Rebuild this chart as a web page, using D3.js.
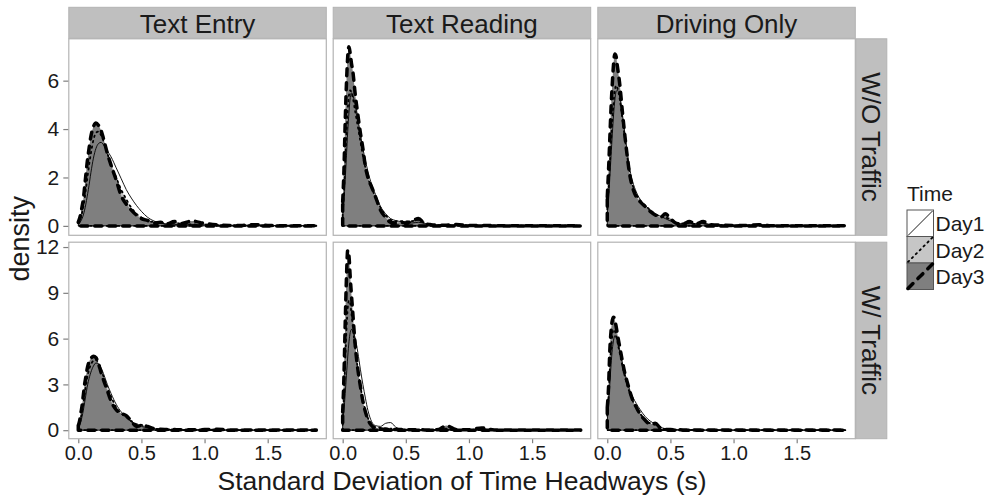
<!DOCTYPE html>
<html>
<head>
<meta charset="utf-8">
<script src="https://cdn.jsdelivr.net/npm/d3@7"></script>
<style>
  body { margin: 0; background: #fff; }
  svg { display: block; font-family: "Liberation Sans", Arial, sans-serif; }
</style>
</head>
<body>
<div id="chart"></div>
<script>
// facets and labels
const tasks = ["Text Entry", "Text Reading", "Driving Only"];
const traffic = ["W/O Traffic", "W/ Traffic"];
const days = ["Day1", "Day2", "Day3"];
const xTicks = [0, 0.5, 1.0, 1.5];
const yTicksTop = [0, 2, 4, 6];
const yTicksBottom = [0, 3, 6, 9, 12];

const xGrid = [0, .01, .02, .03, .04, .05, .06, .07, .08, .10, .12, .14, .16, .18, .20, .23, .26, .30, .34, .38, .42, .46, .50,
  .55, .60, .65, .70, .76, .82, .90, 1.00, 1.10, 1.20, 1.30, 1.40, 1.50, 1.60, 1.70, 1.885];

// W/O Traffic
const entryWO1 = [0.05, 0.1, 0.2, 0.3, 0.45, 0.65, 0.9, 1.2, 1.5, 2.2, 2.8, 3.2, 3.4, 3.45, 3.35, 3.1, 2.85, 2.4, 1.95, 1.5, 1.15, 0.85, 0.6,
  0.35, 0.2, 0.12, 0.08, 0.06, 0.05, 0.05, 0.04, 0.03, 0.02, 0.02, 0.04, 0.02, 0.01, 0.01, 0.01];
const entryWO2 = [0.1, 0.2, 0.35, 0.55, 0.8, 1.1, 1.5, 1.9, 2.3, 3.0, 3.55, 3.85, 3.9, 3.75, 3.5, 3.0, 2.55, 2.0, 1.5, 1.1, 0.75, 0.5, 0.35,
  0.22, 0.15, 0.12, 0.1, 0.12, 0.08, 0.06, 0.05, 0.03, 0.02, 0.02, 0.02, 0.01, 0.01, 0.01, 0.01];
const entryWO3 = [0.15, 0.3, 0.5, 0.8, 1.1, 1.6, 2.1, 2.6, 3.0, 3.7, 4.1, 4.25, 4.15, 3.95, 3.6, 3.0, 2.5, 1.9, 1.25, 0.9, 0.65, 0.45, 0.3,
  0.22, 0.12, 0.15, 0.08, 0.18, 0.1, 0.2, 0.1, 0.04, 0.02, 0.02, 0.05, 0.02, 0.01, 0.01, 0.01];

const readingWO1 = [0.4, 1.0, 1.9, 2.9, 3.9, 4.7, 5.3, 5.5, 5.4, 5.0, 4.4, 3.8, 3.2, 2.7, 2.25, 1.7, 1.3, 0.8, 0.5, 0.3, 0.22, 0.18, 0.15,
  0.12, 0.15, 0.1, 0.05, 0.03, 0.03, 0.03, 0.02, 0.01, 0.01, 0.01, 0.01, 0.01, 0.01, 0.01, 0.01];
const readingWO2 = [0.6, 1.4, 2.6, 3.8, 4.8, 5.4, 5.6, 5.5, 5.3, 4.7, 4.1, 3.5, 2.9, 2.4, 2.0, 1.55, 1.2, 0.75, 0.45, 0.25, 0.2, 0.2, 0.18,
  0.2, 0.25, 0.12, 0.05, 0.03, 0.03, 0.04, 0.02, 0.01, 0.01, 0.01, 0.01, 0.01, 0.01, 0.01, 0.01];
const readingWO3 = [1.0, 2.3, 4.3, 5.9, 7.0, 7.4, 7.1, 6.7, 6.4, 5.4, 4.6, 3.85, 3.2, 2.45, 2.0, 1.6, 1.2, 0.65, 0.35, 0.15, 0.12, 0.15, 0.12,
  0.2, 0.3, 0.1, 0.05, 0.03, 0.03, 0.06, 0.02, 0.02, 0.01, 0.01, 0.01, 0.01, 0.01, 0.01, 0.01];

const drivingWO1 = [0.5, 1.1, 2.0, 2.9, 3.8, 4.6, 5.2, 5.55, 5.6, 5.3, 4.6, 3.8, 3.0, 2.3, 1.85, 1.4, 1.1, 0.85, 0.65, 0.5, 0.4, 0.3, 0.2,
  0.12, 0.08, 0.08, 0.1, 0.1, 0.05, 0.03, 0.02, 0.02, 0.06, 0.01, 0.01, 0.01, 0.01, 0.01, 0.01];
const drivingWO2 = [0.7, 1.5, 2.5, 3.5, 4.4, 5.1, 5.6, 5.8, 5.7, 5.2, 4.4, 3.6, 2.8, 2.15, 1.7, 1.3, 1.05, 0.85, 0.65, 0.5, 0.38, 0.35, 0.25,
  0.12, 0.1, 0.12, 0.08, 0.1, 0.05, 0.03, 0.02, 0.02, 0.03, 0.01, 0.01, 0.01, 0.01, 0.01, 0.01];
const drivingWO3 = [1.2, 2.3, 3.6, 4.9, 5.9, 6.7, 7.1, 7.0, 6.6, 5.8, 4.7, 3.7, 2.8, 2.05, 1.6, 1.2, 1.0, 0.8, 0.6, 0.45, 0.35, 0.5, 0.3,
  0.1, 0.08, 0.18, 0.08, 0.18, 0.05, 0.03, 0.02, 0.02, 0.05, 0.01, 0.01, 0.01, 0.01, 0.01, 0.01];

// W/ Traffic
const entryW1 = [0.15, 0.3, 0.55, 0.9, 1.3, 1.8, 2.3, 2.8, 3.2, 3.8, 4.2, 4.4, 4.35, 4.1, 3.7, 3.0, 2.4, 1.7, 1.2, 0.85, 0.55, 0.35, 0.25,
  0.15, 0.1, 0.06, 0.05, 0.04, 0.03, 0.03, 0.03, 0.02, 0.01, 0.01, 0.01, 0.01, 0.01, 0.01, 0.01];
const entryW2 = [0.2, 0.4, 0.8, 1.2, 1.7, 2.3, 2.9, 3.4, 3.8, 4.3, 4.55, 4.6, 4.4, 4.0, 3.5, 2.8, 2.2, 1.5, 1.1, 0.85, 0.6, 0.4, 0.35,
  0.25, 0.12, 0.06, 0.05, 0.04, 0.03, 0.02, 0.03, 0.03, 0.01, 0.01, 0.01, 0.01, 0.01, 0.01, 0.01];
const entryW3 = [0.3, 0.6, 1.1, 1.6, 2.3, 3.0, 3.5, 4.0, 4.35, 4.7, 4.85, 4.75, 4.35, 3.8, 3.3, 2.6, 1.9, 1.35, 1.1, 0.95, 0.6, 0.25, 0.3,
  0.25, 0.1, 0.06, 0.05, 0.04, 0.03, 0.03, 0.04, 0.06, 0.02, 0.01, 0.01, 0.01, 0.01, 0.01, 0.01];

const readingW1 = [0.5, 1.3, 2.4, 3.6, 4.8, 5.8, 6.4, 6.6, 6.5, 6.0, 5.1, 4.0, 3.0, 2.1, 1.3, 0.55, 0.3, 0.25, 0.45, 0.5, 0.2, 0.08, 0.05,
  0.04, 0.03, 0.03, 0.02, 0.02, 0.05, 0.02, 0.02, 0.05, 0.02, 0.01, 0.01, 0.01, 0.01, 0.01, 0.01];
const readingW2 = [0.8, 2.3, 4.5, 6.6, 8.0, 8.5, 8.3, 7.6, 6.8, 5.3, 4.0, 2.9, 2.0, 1.3, 0.8, 0.4, 0.2, 0.15, 0.12, 0.1, 0.06, 0.04, 0.03,
  0.02, 0.02, 0.02, 0.02, 0.03, 0.1, 0.03, 0.02, 0.06, 0.01, 0.01, 0.01, 0.01, 0.01, 0.01, 0.01];
const readingW3 = [1.2, 3.5, 7.0, 10.0, 11.8, 11.4, 10.0, 8.8, 7.7, 5.5, 4.0, 2.9, 1.9, 1.2, 0.7, 0.3, 0.12, 0.08, 0.06, 0.06, 0.05, 0.04, 0.03,
  0.03, 0.03, 0.02, 0.02, 0.05, 0.3, 0.05, 0.03, 0.15, 0.02, 0.01, 0.01, 0.01, 0.01, 0.01, 0.01];

const drivingW1 = [0.7, 1.6, 3.0, 4.3, 5.3, 5.9, 6.2, 6.1, 5.8, 5.1, 4.4, 3.7, 3.1, 2.6, 2.2, 1.75, 1.35, 0.9, 0.6, 0.4, 0.2, 0.1, 0.06,
  0.04, 0.03, 0.02, 0.02, 0.01, 0.01, 0.01, 0.01, 0.01, 0.02, 0.01, 0.01, 0.01, 0.01, 0.01, 0.01];
const drivingW2 = [1.0, 2.2, 4.0, 5.3, 6.2, 6.6, 6.5, 6.2, 5.8, 5.0, 4.2, 3.5, 2.9, 2.4, 1.95, 1.5, 1.1, 0.7, 0.45, 0.35, 0.15, 0.06, 0.04,
  0.03, 0.02, 0.02, 0.01, 0.01, 0.01, 0.01, 0.01, 0.01, 0.01, 0.01, 0.01, 0.01, 0.01, 0.01, 0.01];
const drivingW3 = [1.5, 2.8, 5.2, 6.5, 7.2, 7.4, 7.2, 6.8, 6.3, 5.4, 4.5, 3.7, 3.1, 2.5, 2.0, 1.5, 1.05, 0.65, 0.4, 0.45, 0.15, 0.05, 0.04,
  0.03, 0.02, 0.02, 0.01, 0.01, 0.01, 0.01, 0.01, 0.01, 0.01, 0.01, 0.01, 0.01, 0.01, 0.01, 0.01];

const panels = [
  [[entryWO1, entryWO2, entryWO3], [readingWO1, readingWO2, readingWO3], [drivingWO1, drivingWO2, drivingWO3]],
  [[entryW1, entryW2, entryW3], [readingW1, readingW2, readingW3], [drivingW1, drivingW2, drivingW3]]
];

//Plot parameters
const w = 992, h = 496;
const panelX = [68.3, 332.7, 597.3];
const panelY = [38.3, 241.7];
const panelW = 258.5, panelH = 197.5;
const stripH = 31;
const dayFill = ["#ffffff", "#c6c6c6", "#7f7f7f"];
const dayWidth = [0.9, 1.8, 3.5];
const dayDash = [null, "1.5 4", "7 7"];
const borderColor = "#b3b3b3";
const stripFill = "#bfbfbf";
const textColor = "#1a1a1a";

const svg = d3.select("#chart").append("svg")
  .attr("width", w).attr("height", h);

const xScale = d3.scaleLinear().domain([-0.079, 1.968]).range([0, panelW]);
const yScales = [
  d3.scaleLinear().domain([-0.41, 7.75]).range([panelH, 0]),
  d3.scaleLinear().domain([-0.59, 12.35]).range([panelH, 0])
];
const yTicks = [yTicksTop, yTicksBottom];

panels.forEach(function (row, r) {
  const yScale = yScales[r];
  const area = d3.area()
    .x((d, i) => xScale(xGrid[i]))
    .y0(yScale(0))
    .y1(d => yScale(d))
    .curve(d3.curveMonotoneX);

  row.forEach(function (series, c) {
    const g = svg.append("g")
      .attr("transform", "translate(" + panelX[c] + "," + panelY[r] + ")");

    g.append("rect").attr("width", panelW).attr("height", panelH).attr("fill", "#fff");

    // fills first, outlines on top
    series.forEach(function (vals, k) {
      g.append("path").attr("d", area(vals)).attr("fill", dayFill[k]).attr("stroke", "none");
    });
    series.forEach(function (vals, k) {
      g.append("path").attr("d", area(vals))
        .attr("fill", "none")
        .attr("stroke", "#000")
        .attr("stroke-width", dayWidth[k])
        .attr("stroke-linecap", k === 0 ? "butt" : "round")
        .attr("stroke-linejoin", "round")
        .attr("stroke-dasharray", dayDash[k]);
    });

    g.append("rect").attr("x", 0.5).attr("y", 0.5)
      .attr("width", panelW - 1).attr("height", panelH - 1)
      .attr("fill", "none").attr("stroke", borderColor).attr("stroke-width", 1.2);

    // y axis on first column
    if (c === 0) {
      const ax = g.append("g").call(d3.axisLeft(yScale).tickValues(yTicks[r]).tickSize(5).tickPadding(4));
      ax.select(".domain").remove();
      ax.selectAll("line").attr("stroke", "#7f7f7f").attr("stroke-width", 1.2);
      ax.selectAll("text").attr("font-size", 21).attr("fill", textColor)
        .attr("font-family", "Liberation Sans, Arial, sans-serif");
    }
    // x axis on bottom row
    if (r === 1) {
      const ax = g.append("g").attr("transform", "translate(0," + panelH + ")")
        .call(d3.axisBottom(xScale).tickValues(xTicks).tickFormat(d3.format(".1f")).tickSize(4).tickPadding(3));
      ax.select(".domain").remove();
      ax.selectAll("line").attr("stroke", "#7f7f7f").attr("stroke-width", 1.2);
      ax.selectAll("text").attr("font-size", 20).attr("fill", textColor)
        .attr("font-family", "Liberation Sans, Arial, sans-serif");
    }
  });

  // row strip
  const sx = panelX[2] + panelW;
  svg.append("rect").attr("x", sx).attr("y", panelY[r] + 0.5)
    .attr("width", stripH).attr("height", panelH - 1)
    .attr("fill", stripFill).attr("stroke", borderColor);
  svg.append("text")
    .attr("transform", "translate(" + (sx + stripH / 2 - 9) + "," + (panelY[r] + panelH / 2) + ") rotate(90)")
    .attr("text-anchor", "middle")
    .attr("font-size", 26).attr("fill", textColor)
    .text(traffic[r]);
});

// column strips
tasks.forEach(function (t, c) {
  svg.append("rect").attr("x", panelX[c] + 0.5).attr("y", panelY[0] - stripH)
    .attr("width", panelW - 1).attr("height", stripH)
    .attr("fill", stripFill).attr("stroke", borderColor);
  svg.append("text")
    .attr("x", panelX[c] + panelW / 2).attr("y", 33)
    .attr("text-anchor", "middle")
    .attr("font-size", 26).attr("fill", textColor)
    .text(t);
});

//Axis titles
svg.append("text")
  .attr("x", (panelX[0] + panelX[2] + panelW) / 2).attr("y", 490)
  .attr("text-anchor", "middle").attr("font-size", 26.5).attr("fill", textColor)
  .text("Standard Deviation of Time Headways (s)");

svg.append("text")
  .attr("transform", "translate(29," + (panelY[0] + (panelY[1] + panelH - panelY[0]) / 2) + ") rotate(-90)")
  .attr("text-anchor", "middle").attr("font-size", 27).attr("fill", textColor)
  .text("density");

//Legend
const lg = svg.append("g").attr("transform", "translate(907,0)");
lg.append("text").attr("x", 0).attr("y", 201).attr("font-size", 21).attr("fill", textColor).text("Time");
const keyY = [210, 236.5, 263];
const keyS = 26.5;
days.forEach(function (d, k) {
  lg.append("rect").attr("x", 0).attr("y", keyY[k]).attr("width", keyS).attr("height", keyS)
    .attr("fill", dayFill[k]).attr("stroke", "#555").attr("stroke-width", 1);
  lg.append("line")
    .attr("x1", 1).attr("y1", keyY[k] + keyS - 1).attr("x2", keyS - 1).attr("y2", keyY[k] + 1)
    .attr("stroke", "#000").attr("stroke-width", dayWidth[k])
    .attr("stroke-linecap", k === 0 ? "butt" : "round")
    .attr("stroke-dasharray", dayDash[k]);
  lg.append("text").attr("x", keyS + 2).attr("y", keyY[k] + 21)
    .attr("font-size", 21).attr("fill", textColor).text(d);
});
</script>
</body>
</html>
